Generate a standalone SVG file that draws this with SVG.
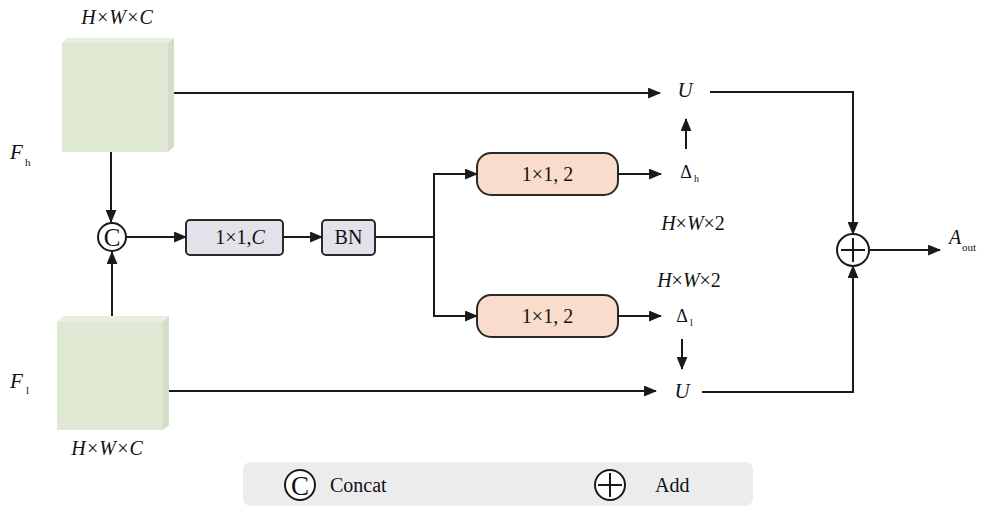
<svg xmlns="http://www.w3.org/2000/svg" width="983" height="506" viewBox="0 0 983 506">
<style>
.t{font-family:"Liberation Serif","Times New Roman",serif;fill:#111111;}
.i{font-style:italic;}
.ln{fill:none;stroke:#1a1a1a;stroke-width:2;}
.box{fill:#e4e1ea;stroke:#2a2a2a;stroke-width:2;}
.obox{fill:#f9dccb;stroke:#2a2a2a;stroke-width:2;}
.face{fill:#dfe8d3;}
.top{fill:#e9efe0;}
.side{fill:#d3dec5;}
.circ{fill:#ffffff;stroke:#1a1a1a;stroke-width:2;}
</style>
<defs>
<marker id="ah" viewBox="0 0 12 10" refX="11" refY="5" markerWidth="13" markerHeight="11" markerUnits="userSpaceOnUse" orient="auto">
<path d="M0,0 L12,5 L0,10 z" fill="#1a1a1a"/>
</marker>
</defs>
<rect x="0" y="0" width="983" height="506" fill="#ffffff"/>

<g id="Fh">
<polygon class="top" points="62,43 67,38 174,38 168,43"/>
<polygon class="side" points="168,43 174,38 174,147 168,152"/>
<rect class="face" x="62" y="43" width="106" height="109"/>
<text class="t i" x="117" y="24" font-size="20" text-anchor="middle">H×W×C</text>
<text class="t i" x="10" y="159" font-size="21">F</text>
<text class="t" x="25" y="166" font-size="11">h</text>
</g>

<g id="Fl">
<polygon class="top" points="57,322 63,316 169,316 163,322"/>
<polygon class="side" points="163,322 169,316 169,425 163,430"/>
<rect class="face" x="57" y="322" width="106" height="108"/>
<text class="t i" x="107" y="455" font-size="20" text-anchor="middle">H×W×C</text>
<text class="t i" x="10" y="388" font-size="21">F</text>
<text class="t" x="26" y="394" font-size="11">l</text>
</g>

<g id="concat">
<circle class="circ" cx="112" cy="237" r="14"/>
<text class="t" x="112" y="246" font-size="25" text-anchor="middle">C</text>
</g>

<g id="conv1">
<rect class="box" x="186" y="220" width="97" height="35" rx="4"/>
<text class="t" x="240" y="244" font-size="20" text-anchor="middle">1×1,<tspan class="i">C</tspan></text>
</g>

<g id="bn">
<rect class="box" x="322" y="220" width="53" height="35" rx="4"/>
<text class="t" x="348.5" y="244" font-size="20" text-anchor="middle">BN</text>
</g>

<g id="convh">
<rect class="obox" x="477" y="153" width="141" height="42" rx="14"/>
<text class="t" x="547.5" y="181" font-size="20" text-anchor="middle">1×1, 2</text>
</g>

<g id="convl">
<rect class="obox" x="477" y="295" width="141" height="42" rx="14"/>
<text class="t" x="547.5" y="323" font-size="20" text-anchor="middle">1×1, 2</text>
</g>

<g id="Uh">
<text class="t i" x="685" y="97" font-size="21" text-anchor="middle">U</text>
</g>
<g id="Ul">
<text class="t i" x="682" y="398" font-size="21" text-anchor="middle">U</text>
</g>
<g id="dh">
<text class="t" x="686" y="178" font-size="18" text-anchor="middle">Δ</text>
<text class="t" x="694" y="182" font-size="10">h</text>
</g>
<g id="dl">
<text class="t" x="682" y="322" font-size="18" text-anchor="middle">Δ</text>
<text class="t" x="690" y="326" font-size="10">l</text>
</g>
<g id="shapes">
<text class="t" x="693" y="230" font-size="20" text-anchor="middle"><tspan class="i">H</tspan>×<tspan class="i">W</tspan>×2</text>
<text class="t" x="689" y="287" font-size="20" text-anchor="middle"><tspan class="i">H</tspan>×<tspan class="i">W</tspan>×2</text>
</g>

<g id="add">
<circle class="circ" cx="853" cy="250" r="16"/>
<path class="ln" d="M841,250 H865 M853,238 V262"/>
</g>

<g id="Aout">
<text class="t i" x="949" y="244" font-size="20">A</text>
<text class="t" x="962" y="251" font-size="11">out</text>
</g>

<g id="connectors">
<path class="ln" d="M174,93 H660" marker-end="url(#ah)"/>
<path class="ln" d="M169,391 H656" marker-end="url(#ah)"/>
<path class="ln" d="M111,152 V222" marker-end="url(#ah)"/>
<path class="ln" d="M112,316 V252" marker-end="url(#ah)"/>
<path class="ln" d="M126,237 H186" marker-end="url(#ah)"/>
<path class="ln" d="M283,237 H322" marker-end="url(#ah)"/>
<path class="ln" d="M375,237 H434"/>
<path class="ln" d="M434,174 V316"/>
<path class="ln" d="M433,174 H477" marker-end="url(#ah)"/>
<path class="ln" d="M433,316 H477" marker-end="url(#ah)"/>
<path class="ln" d="M618,174 H661" marker-end="url(#ah)"/>
<path class="ln" d="M618,316 H661" marker-end="url(#ah)"/>
<path class="ln" d="M686,149 V119" marker-end="url(#ah)"/>
<path class="ln" d="M682,339 V369" marker-end="url(#ah)"/>
<path class="ln" d="M710,92 H853 V234" marker-end="url(#ah)"/>
<path class="ln" d="M702,392 H853 V266" marker-end="url(#ah)"/>
<path class="ln" d="M869,250 H940" marker-end="url(#ah)"/>
</g>

<g id="legend">
<rect x="243" y="462" width="510" height="44" rx="8" fill="#ececef"/>
<circle class="circ" cx="300" cy="485" r="15" fill="none"/>
<text class="t" x="300" y="495" font-size="27" text-anchor="middle">C</text>
<text class="t" x="330" y="492" font-size="20">Concat</text>
<circle class="circ" cx="610" cy="485" r="15" fill="none"/>
<path class="ln" d="M598,485 H622 M610,473 V497"/>
<text class="t" x="655" y="492" font-size="20">Add</text>
</g>
</svg>
